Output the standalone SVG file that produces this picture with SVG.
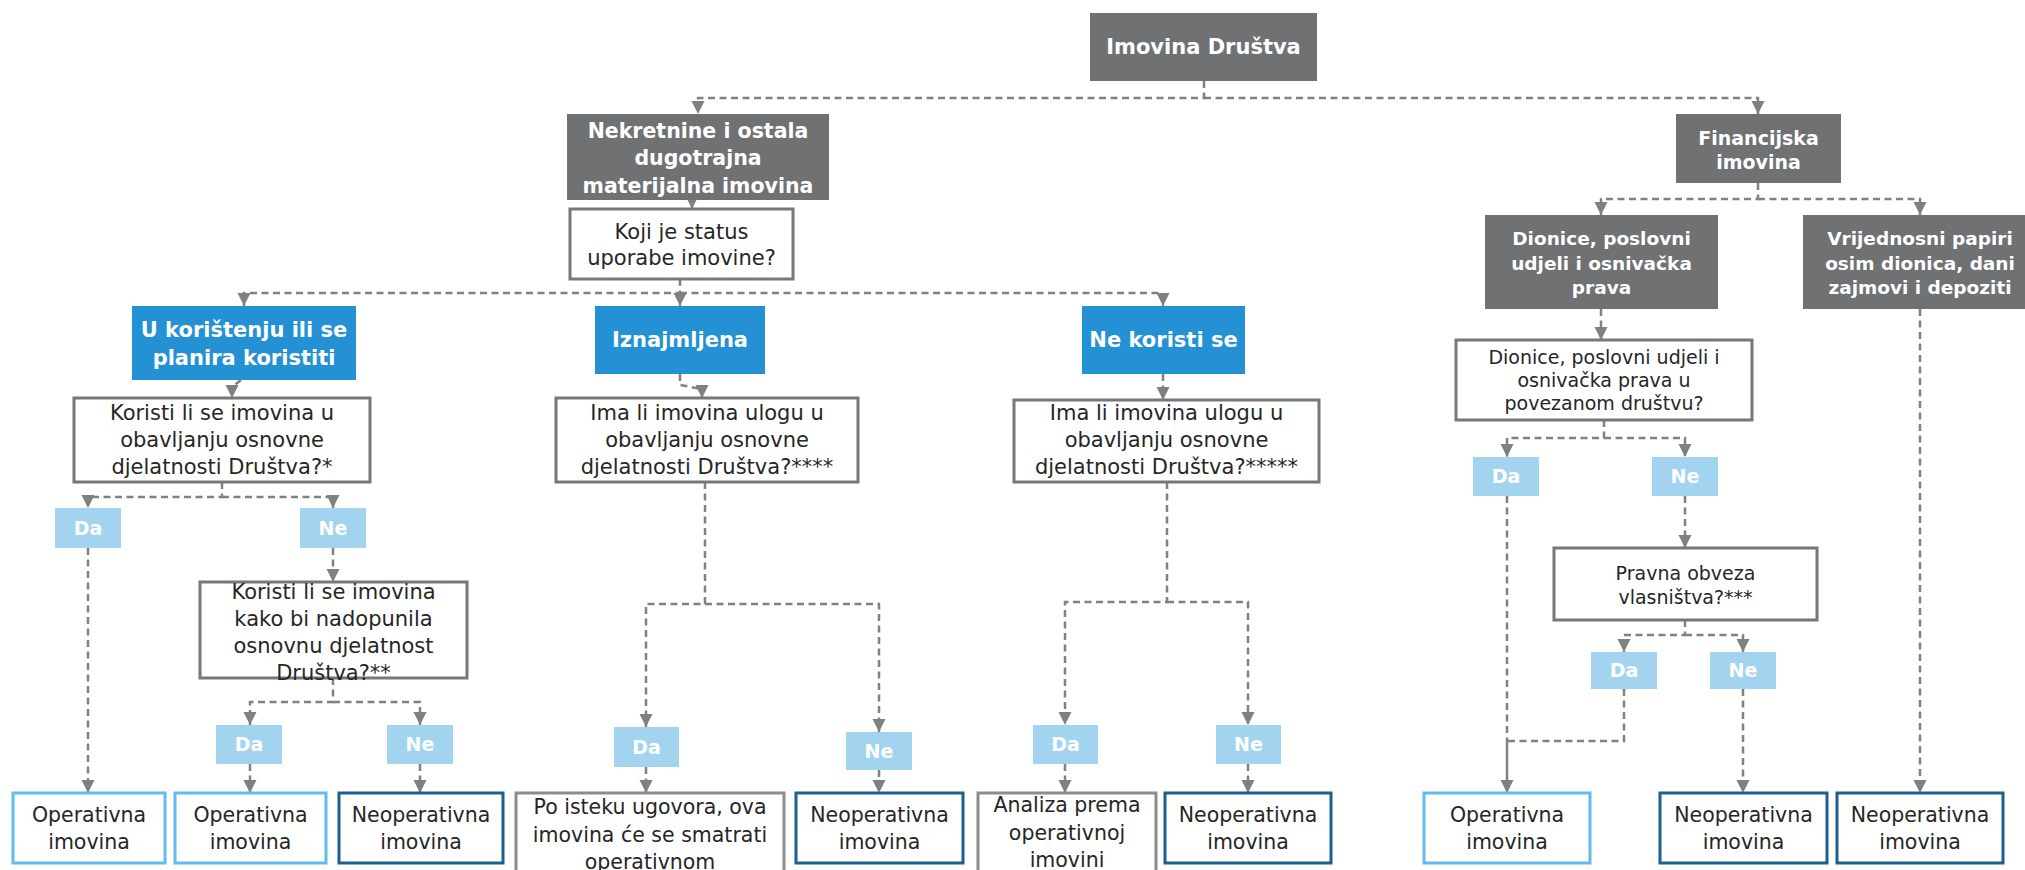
<svg xmlns="http://www.w3.org/2000/svg" width="2025" height="870" viewBox="0 0 2025 870">
  <defs>
    <marker id="arrow" markerUnits="userSpaceOnUse" markerWidth="14" markerHeight="14" viewBox="0 0 14 14" refX="13" refY="7" orient="auto">
      <path d="M0,0.5 L13,7 L0,13.5 z" fill="#7f8082"/>
    </marker>
  </defs>
  <style>
    text { font-family: "DejaVu Sans", Verdana, sans-serif; text-anchor: middle; }
    .gray rect { fill: #6f7173; }
    .gray text { fill: #ffffff; font-weight: bold; }
    .blue rect { fill: #2391d3; }
    .blue text { fill: #ffffff; font-weight: bold; font-size: 21px; }
    .ans rect { fill: #a3d4ef; }
    .ans text { fill: #ffffff; font-weight: bold; font-size: 19px; }
    .q rect { fill: #ffffff; stroke: #767778; stroke-width: 3; }
    .q text { fill: #262626; font-size: 21px; }
    .q.sm text { font-size: 19px; }
    .out rect { fill: #ffffff; stroke-width: 3; }
    .out text { fill: #262626; font-size: 20.5px; }
    .op rect { stroke: #62bbec; }
    .neop rect { stroke: #1e5f8d; }
    .other rect { stroke: #8c8c8c; }
    .conn path { fill: none; stroke: #808183; stroke-width: 2.5; }
    .conn .d { stroke-dasharray: 7 4.5; }
    .conn .a { marker-end: url(#arrow); }
  </style>

  <!-- connectors -->
  <g id="connectors" class="conn">
    <path class="d a" d="M1204,81 V98 H698 V114"/>
    <path class="d a" d="M1204,98 H1758 V114"/>
    <path class="a" d="M692,200 V209"/>
    <path class="d a" d="M680,279 V293 H244 V306"/>
    <path class="d a" d="M680,293 V306"/>
    <path class="d a" d="M680,293 H1163 V306"/>
    <path class="d a" d="M241,380 L232,387 V398"/>
    <path class="d a" d="M680,374 V385 L702,389 V398"/>
    <path class="d a" d="M1163,374 V400"/>
    <path class="d a" d="M1758,183 V199 H1601 V215"/>
    <path class="d a" d="M1758,199 H1920 V215"/>
    <path class="d a" d="M1601,309 V340"/>
    <path class="d a" d="M1920,309 V793"/>
    <path class="d a" d="M222,482 V497 H88 V508"/>
    <path class="d a" d="M222,497 H333 V508"/>
    <path class="d a" d="M88,548 V793"/>
    <path class="d a" d="M333,548 V582"/>
    <path class="d a" d="M333,678 V702 H250 V725"/>
    <path class="d a" d="M333,702 H420 V725"/>
    <path class="d a" d="M250,764 V793"/>
    <path class="d a" d="M420,764 V793"/>
    <path class="d a" d="M705,482 V604 H646 V727"/>
    <path class="d a" d="M705,604 H879 V732"/>
    <path class="d a" d="M646,767 V793"/>
    <path class="d a" d="M879,770 V793"/>
    <path class="d a" d="M1167,482 V602 H1065 V725"/>
    <path class="d a" d="M1167,602 H1248 V725"/>
    <path class="d a" d="M1065,764 V793"/>
    <path class="d a" d="M1248,764 V793"/>
    <path class="d a" d="M1604,420 V438 H1507 V457"/>
    <path class="d a" d="M1604,438 H1685 V457"/>
    <path class="d a" d="M1685,496 V548"/>
    <path class="d a" d="M1685,620 V635 H1624 V652"/>
    <path class="d a" d="M1685,635 H1743 V652"/>
    <path class="d a" d="M1743,689 V793"/>
    <path class="d" d="M1507,496 V741"/>
    <path class="d" d="M1624,689 V741 H1507"/>
    <path class="a" d="M1507,741 V793"/>
  </g>

  <!-- top level -->
  <g id="imovina-drustva" class="gray">
    <rect x="1090" y="13" width="227" height="68"/>
    <text x="1203.5" y="54" font-size="21">Imovina Društva</text>
  </g>
  <g id="nekretnine" class="gray">
    <rect x="567" y="114" width="262" height="86"/>
    <text x="698" font-size="20.5"><tspan x="698" y="138">Nekretnine i ostala</tspan><tspan x="698" y="165">dugotrajna</tspan><tspan x="698" y="193">materijalna imovina</tspan></text>
  </g>
  <g id="financijska" class="gray">
    <rect x="1676" y="114" width="165" height="69"/>
    <text font-size="19"><tspan x="1758.5" y="145">Financijska</tspan><tspan x="1758.5" y="169">imovina</tspan></text>
  </g>
  <g id="dionice" class="gray">
    <rect x="1485" y="215" width="233" height="94"/>
    <text font-size="18.5"><tspan x="1601.5" y="245">Dionice, poslovni</tspan><tspan x="1601.5" y="270">udjeli i osnivačka</tspan><tspan x="1601.5" y="294">prava</tspan></text>
  </g>
  <g id="vrijednosni-papiri" class="gray">
    <rect x="1803" y="215" width="234" height="94"/>
    <text font-size="18.5"><tspan x="1920" y="245">Vrijednosni papiri</tspan><tspan x="1920" y="270">osim dionica, dani</tspan><tspan x="1920" y="294">zajmovi i depoziti</tspan></text>
  </g>

  <!-- usage status -->
  <g id="status-uporabe" class="q">
    <rect x="570" y="209" width="223" height="70"/>
    <text><tspan x="681.5" y="239">Koji je status</tspan><tspan x="681.5" y="265">uporabe imovine?</tspan></text>
  </g>
  <g id="u-koristenju" class="blue">
    <rect x="132" y="306" width="224" height="74"/>
    <text><tspan x="244" y="337">U korištenju ili se</tspan><tspan x="244" y="365">planira koristiti</tspan></text>
  </g>
  <g id="iznajmljena" class="blue">
    <rect x="595" y="306" width="170" height="68"/>
    <text x="680" y="347">Iznajmljena</text>
  </g>
  <g id="ne-koristi-se" class="blue">
    <rect x="1082" y="306" width="163" height="68"/>
    <text x="1163.5" y="347">Ne koristi se</text>
  </g>

  <!-- questions -->
  <g id="pitanje-koristenje" class="q">
    <rect x="74" y="398" width="296" height="84"/>
    <text><tspan x="222" y="420">Koristi li se imovina u</tspan><tspan x="222" y="447">obavljanju osnovne</tspan><tspan x="222" y="474">djelatnosti Društva?*</tspan></text>
  </g>
  <g id="pitanje-najam" class="q">
    <rect x="556" y="398" width="302" height="84"/>
    <text><tspan x="707" y="420">Ima li imovina ulogu u</tspan><tspan x="707" y="447">obavljanju osnovne</tspan><tspan x="707" y="474">djelatnosti Društva?****</tspan></text>
  </g>
  <g id="pitanje-nekoristenje" class="q">
    <rect x="1014" y="400" width="305" height="82"/>
    <text><tspan x="1166.5" y="420">Ima li imovina ulogu u</tspan><tspan x="1166.5" y="447">obavljanju osnovne</tspan><tspan x="1166.5" y="474">djelatnosti Društva?*****</tspan></text>
  </g>
  <g id="pitanje-povezano" class="q sm">
    <rect x="1456" y="340" width="296" height="80"/>
    <text><tspan x="1604" y="364">Dionice, poslovni udjeli i</tspan><tspan x="1604" y="387">osnivačka prava u</tspan><tspan x="1604" y="410">povezanom društvu?</tspan></text>
  </g>
  <g id="pitanje-dopuna" class="q">
    <rect x="200" y="582" width="267" height="96"/>
    <text><tspan x="333.5" y="599">Koristi li se imovina</tspan><tspan x="333.5" y="626">kako bi nadopunila</tspan><tspan x="333.5" y="653">osnovnu djelatnost</tspan><tspan x="333.5" y="680">Društva?**</tspan></text>
  </g>
  <g id="pitanje-obveza" class="q sm">
    <rect x="1554" y="548" width="263" height="72"/>
    <text><tspan x="1685.5" y="580">Pravna obveza</tspan><tspan x="1685.5" y="604">vlasništva?***</tspan></text>
  </g>

  <!-- answers -->
  <g id="da-1" class="ans"><rect x="55" y="508" width="66" height="40"/><text x="88" y="535">Da</text></g>
  <g id="ne-1" class="ans"><rect x="300" y="508" width="66" height="40"/><text x="333" y="535">Ne</text></g>
  <g id="da-2" class="ans"><rect x="216" y="725" width="66" height="39"/><text x="249" y="751">Da</text></g>
  <g id="ne-2" class="ans"><rect x="387" y="725" width="66" height="39"/><text x="420" y="751">Ne</text></g>
  <g id="da-3" class="ans"><rect x="614" y="727" width="65" height="40"/><text x="646.5" y="754">Da</text></g>
  <g id="ne-3" class="ans"><rect x="846" y="732" width="66" height="38"/><text x="879" y="758">Ne</text></g>
  <g id="da-4" class="ans"><rect x="1033" y="725" width="65" height="39"/><text x="1065.5" y="751">Da</text></g>
  <g id="ne-4" class="ans"><rect x="1216" y="725" width="65" height="39"/><text x="1248.5" y="751">Ne</text></g>
  <g id="da-5" class="ans"><rect x="1473" y="457" width="66" height="39"/><text x="1506" y="483">Da</text></g>
  <g id="ne-5" class="ans"><rect x="1652" y="457" width="66" height="39"/><text x="1685" y="483">Ne</text></g>
  <g id="da-6" class="ans"><rect x="1591" y="652" width="66" height="37"/><text x="1624" y="677">Da</text></g>
  <g id="ne-6" class="ans"><rect x="1710" y="652" width="66" height="37"/><text x="1743" y="677">Ne</text></g>

  <!-- outcomes -->
  <g id="operativna-1" class="out op">
    <rect x="13" y="793" width="152" height="70"/>
    <text><tspan x="89" y="822">Operativna</tspan><tspan x="89" y="849">imovina</tspan></text>
  </g>
  <g id="operativna-2" class="out op">
    <rect x="175" y="793" width="151" height="70"/>
    <text><tspan x="250.5" y="822">Operativna</tspan><tspan x="250.5" y="849">imovina</tspan></text>
  </g>
  <g id="neoperativna-1" class="out neop">
    <rect x="339" y="793" width="164" height="70"/>
    <text><tspan x="421" y="822">Neoperativna</tspan><tspan x="421" y="849">imovina</tspan></text>
  </g>
  <g id="po-isteku" class="out other">
    <rect x="516" y="793" width="268" height="95"/>
    <text font-size="21"><tspan x="650" y="814">Po isteku ugovora, ova</tspan><tspan x="650" y="842">imovina će se smatrati</tspan><tspan x="650" y="869">operativnom</tspan></text>
  </g>
  <g id="neoperativna-2" class="out neop">
    <rect x="796" y="793" width="167" height="70"/>
    <text><tspan x="879.5" y="822">Neoperativna</tspan><tspan x="879.5" y="849">imovina</tspan></text>
  </g>
  <g id="analiza" class="out other">
    <rect x="978" y="793" width="178" height="95"/>
    <text><tspan x="1067" y="812">Analiza prema</tspan><tspan x="1067" y="840">operativnoj</tspan><tspan x="1067" y="867">imovini</tspan></text>
  </g>
  <g id="neoperativna-3" class="out neop">
    <rect x="1165" y="793" width="166" height="70"/>
    <text><tspan x="1248" y="822">Neoperativna</tspan><tspan x="1248" y="849">imovina</tspan></text>
  </g>
  <g id="operativna-3" class="out op">
    <rect x="1424" y="793" width="166" height="70"/>
    <text><tspan x="1507" y="822">Operativna</tspan><tspan x="1507" y="849">imovina</tspan></text>
  </g>
  <g id="neoperativna-4" class="out neop">
    <rect x="1660" y="793" width="167" height="70"/>
    <text><tspan x="1743.5" y="822">Neoperativna</tspan><tspan x="1743.5" y="849">imovina</tspan></text>
  </g>
  <g id="neoperativna-5" class="out neop">
    <rect x="1837" y="793" width="166" height="70"/>
    <text><tspan x="1920" y="822">Neoperativna</tspan><tspan x="1920" y="849">imovina</tspan></text>
  </g>
</svg>
